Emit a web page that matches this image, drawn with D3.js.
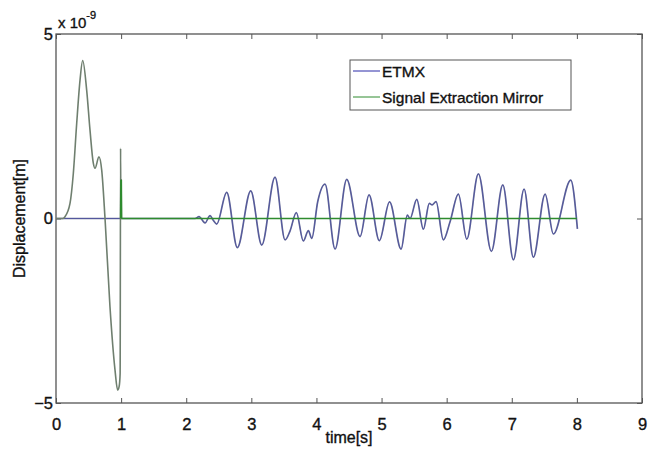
<!DOCTYPE html>
<html><head><meta charset="utf-8">
<script src="https://cdn.jsdelivr.net/npm/d3@7"></script>
<style>body{margin:0;background:#fff}svg{display:block}text{font-family:"Liberation Sans",Arial,sans-serif;fill:#111;stroke:#111;stroke-width:0.35px}</style>
</head><body>
<script>
// ETMX (displacement in units of 1e-9 m)
const etmxTime = [0,2.135,2.197,2.289,2.366,2.412,2.468,2.622,2.785,2.991,3.160,3.364,3.518,3.594,3.691,3.799,3.876,3.928,4.020,4.132,4.286,4.465,4.670,4.808,4.966,5.123,5.300,5.396,5.438,5.541,5.642,5.734,5.776,5.837,5.949,6.052,6.180,6.309,6.487,6.687,6.862,7.025,7.189,7.332,7.512,7.639,7.906,8.008];
const etmxValue = [0,0,0.05,-0.12,0.08,-0.04,-0.15,0.71,-0.79,0.75,-0.72,1.12,-0.58,-0.34,0.16,-0.61,-0.33,-0.54,0.46,0.93,-0.83,1.06,-0.49,0.64,-0.60,0.45,-0.83,0.09,0.0,0.52,-0.29,0.41,0.37,0.46,-0.58,-0.09,0.66,-0.56,1.21,-0.89,0.91,-1.12,0.80,-1.05,0.66,-0.42,1.04,-0.28];
// Signal Extraction Mirror
const semTime = [0,0.10,0.138,0.215,0.266,0.318,0.369,0.41,0.471,0.522,0.573,0.599,0.660,0.702,0.753,0.829,0.906,0.947,0.970,0.985,0.992,0.996,1.000,1.004,1.008,8.0];
const semValue = [0,0,0.05,0.41,1.22,2.58,3.75,4.28,3.48,2.40,1.50,1.36,1.67,1.31,0,-2.39,-4.1,-4.65,-4.55,-4.2,1.9,0,1.05,0,0,0];
const xTicks = [0,1,2,3,4,5,6,7,8,9];
const yTicks = [-5,0,5];
const seriesNames = ["ETMX","Signal Extraction Mirror"];
const seriesColors = ["#2a2aa8","#2e8b2e"];

const W=648,H=450, m={l:56,r:6,t:34,b:47};
const svg=d3.select("body").append("svg").attr("width",W).attr("height",H);
const x=d3.scaleLinear().domain([0,9]).range([m.l,W-m.r]);
const y=d3.scaleLinear().domain([-5,5]).range([H-m.b,m.t]);
const axisCol="#555";

// box
svg.append("rect").attr("x",x(0)).attr("y",y(5)).attr("width",x(9)-x(0)).attr("height",y(-5)-y(5))
  .attr("fill","none").attr("stroke",axisCol).attr("stroke-width",1.3);

const xb=svg.append("g").attr("transform",`translate(0,${y(-5)})`)
  .call(d3.axisBottom(x).tickValues(xTicks).tickSizeInner(-5).tickSizeOuter(0).tickPadding(15));
const xt=svg.append("g").attr("transform",`translate(0,${y(5)})`)
  .call(d3.axisTop(x).tickValues(xTicks).tickSizeInner(-5).tickSizeOuter(0).tickFormat(""));
const yl=svg.append("g").attr("transform",`translate(${x(0)},0)`)
  .call(d3.axisLeft(y).tickValues(yTicks).tickSizeInner(-5).tickSizeOuter(0).tickPadding(3));
const yr=svg.append("g").attr("transform",`translate(${x(9)},0)`)
  .call(d3.axisRight(y).tickValues(yTicks).tickSizeInner(-5).tickSizeOuter(0).tickFormat(""));
[xb,xt,yl,yr].forEach(g=>{g.select(".domain").remove();g.selectAll("line").attr("stroke",axisCol);
  g.selectAll("text").attr("font-size",16.5).attr("font-family","Liberation Sans, Arial, sans-serif").attr("fill","#111");});

// exponent label
const ex=svg.append("text").attr("x",x(0)+2).attr("y",y(5)-6).attr("font-size",15);
ex.append("tspan").text("x 10");
ex.append("tspan").attr("dy",-9).attr("font-size",11).text("-9");

svg.append("text").attr("x",(x(0)+x(9))/2).attr("y",H-7).attr("text-anchor","middle").attr("font-size",16).text("time[s]");
svg.append("text").attr("transform",`translate(25,${y(0)}) rotate(-90)`).attr("text-anchor","middle").attr("font-size",16).text("Displacement[m]");

const line=d3.line().x(d=>x(d[0])).y(d=>y(d[1])).curve(d3.curveMonotoneX);
const etmx=etmxTime.map((t,i)=>[t,etmxValue[i]]);
const sem=semTime.map((t,i)=>[t,semValue[i]]);
svg.append("path").attr("d",line(etmx)).attr("fill","none").attr("stroke","#6a7098").attr("stroke-width",1.7);
svg.append("path").attr("d",line(etmx)).attr("fill","none").attr("stroke",seriesColors[0]).attr("stroke-width",0.6).attr("opacity",0.6);
// SEM: curve part grayish, flat part green
const semCurve=sem.filter(d=>d[0]<=1.004);
const semFlat=sem.filter(d=>d[0]>=1.004);
svg.append("path").attr("d",line(semCurve)).attr("fill","none").attr("stroke","#6f7f6f").attr("stroke-width",1.6);
svg.append("path").attr("d",d3.line().x(d=>x(d[0])).y(d=>y(d[1]))(sem.filter(d=>d[0]>=0.996&&d[0]<=1.004))).attr("fill","none").attr("stroke",seriesColors[1]).attr("stroke-width",2);
svg.append("path").attr("d",line(semFlat)).attr("fill","none").attr("stroke",seriesColors[1]).attr("stroke-width",1.3);

// legend
const lg=svg.append("g").attr("transform","translate(350,60)");
lg.append("rect").attr("width",221).attr("height",50).attr("fill","#fff").attr("stroke",axisCol).attr("stroke-width",1);
seriesNames.forEach((n,i)=>{
  lg.append("line").attr("x1",3).attr("x2",30).attr("y1",11+i*26).attr("y2",11+i*26).attr("stroke",seriesColors[i]).attr("stroke-width",1);
  lg.append("text").attr("x",32).attr("y",17+i*26).attr("font-size",15.5).text(n);
});
</script>
</body></html>
